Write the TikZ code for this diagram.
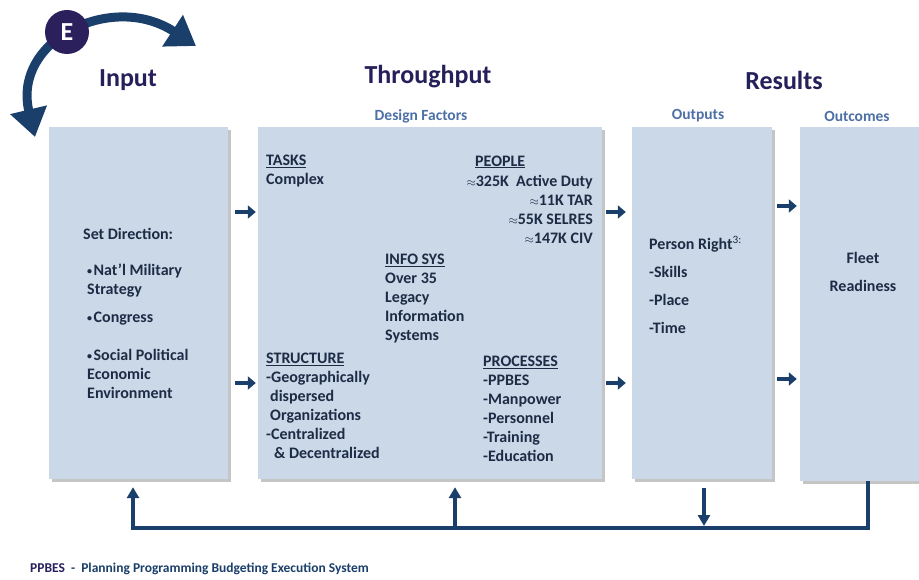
\documentclass[tikz,border=0pt]{standalone}
\usepackage{fontspec}
\setmainfont{Carlito}
\usetikzlibrary{arrows.meta,calc,shadows}
\definecolor{boxfill}{HTML}{CBD8E8}
\definecolor{navy}{HTML}{1B3F6B}
\definecolor{textnavy}{HTML}{1E2B45}
\definecolor{titlecol}{HTML}{25205A}
\definecolor{subcol}{HTML}{4D70A6}
\definecolor{epurple}{HTML}{2B1F5C}
\newcommand{\apx}{{\fontsize{12}{12}\selectfont$\approx$}}
\newcommand{\bul}{{\fontsize{10}{10}\selectfont\raisebox{1pt}{•}}\hspace{1.5pt}}
\tikzset{
  box/.style={fill=boxfill, draw=none, inner sep=0pt,
    drop shadow={shadow xshift=3pt, shadow yshift=-3pt, fill=black!50, opacity=0.45}},
  txt/.style={font=\fontsize{16}{19}\selectfont\bfseries, text=textnavy, inner sep=0pt, anchor=west, align=left},
  head/.style={font=\fontsize{26}{30}\selectfont\bfseries, text=titlecol, inner sep=0pt},
  sub/.style={font=\fontsize{15.5}{18}\selectfont\bfseries, text=subcol, inner sep=0pt},
  flow/.style={draw=navy, line width=4.5pt, -{Triangle[length=8pt,width=13pt]}},
  fb/.style={draw=navy, line width=4pt},
  fbtip/.style={-{Triangle[length=11pt,width=12pt]}}
}
\begin{document}
\begin{tikzpicture}[x=1pt,y=-1pt]
\clip (0,0) rectangle (919,580);
\fill[white] (0,0) rectangle (919,580);

\node[box, minimum width=179pt, minimum height=352pt] (input) at (138.5,303) {};
\node[box, minimum width=344pt, minimum height=352pt] (design) at (430,303) {};
\node[box, minimum width=140pt, minimum height=352pt] (output) at (702,303) {};
\node[box, minimum width=135pt, minimum height=354pt] (outcome) at (867.5,304) {};

\node[head] (inputhead) at (128,80) {Input};
\node[head] (thruhead) at (428,77) {Throughput};
\node[head] (reshead) at (784,80) {Results};
\node[sub] (dfhead) at (421,116) {Design Factors};
\node[sub] (outhead) at (698,116) {Outputs};
\node[sub] (ochead) at (857,116) {Outcomes};

\draw[navy, line width=9pt, {Triangle[length=28pt,width=36pt]}-{Triangle[length=28pt,width=36pt]}]
  (35,137) .. controls (12,40) and (112,-9) .. (196,46);
\node[circle, fill=epurple, minimum size=44pt, inner sep=0pt, text=white,
  font=\fontsize{26}{26}\selectfont\bfseries] (env) at (67,32) {E};

\node[txt] (setdir) at (83,234) {Set Direction:};
\node[txt] (military) at (87,280.5) {\bul Nat’l Military\\Strategy};
\node[txt] (congress) at (87,319) {\bul Congress};
\node[txt] (social) at (87,374) {\bul Social Political\\Economic\\Environment};

\node[txt] (tasks) at (266,171.5) {\underline{TASKS}\\Complex};
\node[txt] (peoplehead) at (475,162) {\underline{PEOPLE}};
\node[txt, anchor=east, align=right] (people) at (593,209)
  {\apx325K\ \ Active Duty\\\apx11K TAR\\\apx55K SELRES\\\apx147K CIV};
\node[txt] (infosys) at (385,298.5) {\underline{INFO SYS}\\Over 35\\Legacy\\Information\\Systems};
\node[txt] (structure) at (266,405.5) {\underline{STRUCTURE}\\-Geographically\\\hspace*{4pt}dispersed\\\hspace*{4pt}Organizations\\-Centralized\\\hspace*{8pt}\& Decentralized};
\node[txt] (processes) at (483,409) {\underline{PROCESSES}\\-PPBES\\-Manpower\\-Personnel\\-Training\\-Education};

\node[txt, font=\fontsize{16}{28}\selectfont\bfseries] (person) at (649,285)
  {Person Right\textsuperscript{\mdseries 3:}\\-Skills\\-Place\\-Time};
\node[txt, font=\fontsize{16}{28}\selectfont\bfseries, anchor=center, align=center] (fleet) at (863,272)
  {Fleet\\Readiness};

\draw[flow] ($(input.east |- 0,212)+(7,0)$) -- ($(design.west |- 0,212)+(-2,0)$);
\draw[flow] ($(input.east |- 0,383)+(7,0)$) -- ($(design.west |- 0,383)+(-2,0)$);
\draw[flow] ($(design.east |- 0,212)+(4,0)$) -- ($(output.west |- 0,212)+(-6,0)$);
\draw[flow] ($(design.east |- 0,383)+(4,0)$) -- ($(output.west |- 0,383)+(-6,0)$);
\draw[flow] ($(output.east |- 0,206)+(5,0)$) -- ($(outcome.west |- 0,206)+(-3,0)$);
\draw[flow] ($(output.east |- 0,379)+(5,0)$) -- ($(outcome.west |- 0,379)+(-3,0)$);

\draw[fb, fbtip] (outcome.south -| 868,0) -- (868,528) -- (133,528) -- ($(input.south -| 133,0)+(0,8)$);
\draw[fb, fbtip] (455,528) -- ($(design.south -| 455,0)+(0,8)$);
\draw[fb, fbtip] ($(output.south -| 704,0)+(0,9)$) -- (704,526);

\node[anchor=west, inner sep=0pt, font=\fontsize{13.5}{15}\selectfont\bfseries, text=navy] (note) at (30,569)
  {\textcolor{epurple}{PPBES}\ \ -\ \ Planning Programming Budgeting Execution System};
\end{tikzpicture}
\end{document}
